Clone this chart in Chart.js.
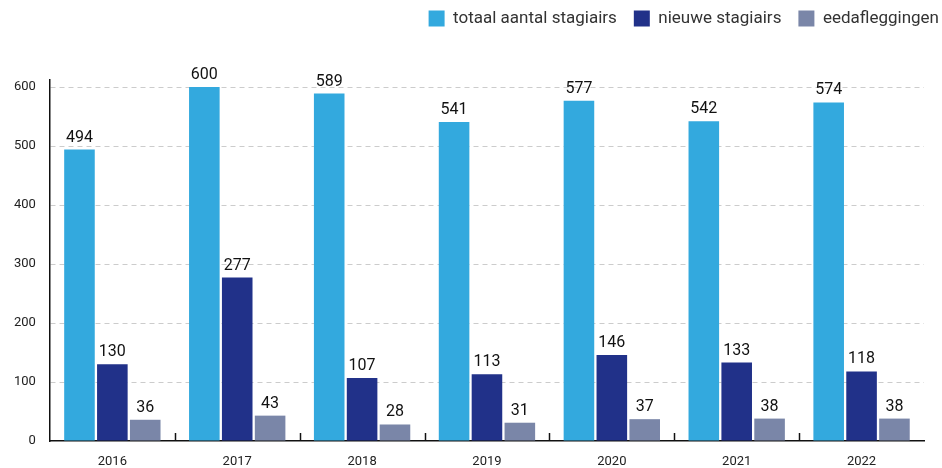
<!DOCTYPE html>
<html>
<head>
<meta charset="utf-8">
<script src="https://cdn.jsdelivr.net/npm/chart.js@4.4.1/dist/chart.umd.min.js"></script>
<style>
  html, body { margin: 0; padding: 0; background: #fff; }
  #wrap { width: 942px; height: 468px; }
</style>
</head>
<body>
<div id="wrap"><canvas id="stagiairs"></canvas></div>
<script>
const jaren = ['2016', '2017', '2018', '2019', '2020', '2021', '2022'];
const totaal = [494, 600, 589, 541, 577, 542, 574];
const nieuwe = [130, 277, 107, 113, 146, 133, 118];
const eed = [36, 43, 28, 31, 37, 38, 38];
const yTicks = [0, 100, 200, 300, 400, 500, 600];

// waarden boven de staven
const labelPlugin = {
    id: 'labels',
    afterDatasetsDraw(chart) {
        const ctx = chart.ctx;
        ctx.save();
        ctx.font = '16px Roboto';
        ctx.fillStyle = '#111';
        ctx.textAlign = 'center';
        ctx.textBaseline = 'bottom';
        chart.data.datasets.forEach((ds, i) => {
            chart.getDatasetMeta(i).data.forEach((bar, j) => {
                ctx.fillText(ds.data[j], bar.x, bar.y - 4);
            });
        });
        ctx.restore();
    }
};

// kleine streepjes tussen de jaren op de x-as
const tickPlugin = {
    id: 'tussenstreepjes',
    afterDraw(chart) {
        const ctx = chart.ctx;
        const x = chart.scales.x;
        const bottom = chart.chartArea.bottom;
        ctx.save();
        ctx.strokeStyle = '#111';
        ctx.lineWidth = 1.5;
        for (let i = 1; i < jaren.length; i++) {
            const px = Math.round((x.getPixelForValue(i - 1) + x.getPixelForValue(i)) / 2) + 0.5;
            ctx.beginPath();
            ctx.moveTo(px, bottom - 8);
            ctx.lineTo(px, bottom);
            ctx.stroke();
        }
        ctx.restore();
    }
};

// extra ruimte onder de legenda, legenda iets naar rechtsboven
const legendRuimte = {
    id: 'legendRuimte',
    beforeInit(chart) {
        const fit = chart.legend.fit;
        chart.legend.fit = function() {
            fit.bind(chart.legend)();
            this.height += 36;
        };
    },
    afterLayout(chart) {
        chart.legend.left += 32;
        chart.legend.right += 32;
        chart.legend.top -= 7;
    }
};

const ctx = document.getElementById('stagiairs').getContext('2d');
const stagiairsChart = new Chart(ctx, {
    type: 'bar',
    data: {
        labels: jaren,
        datasets: [{
            label: 'totaal aantal stagiairs',
            data: totaal,
            backgroundColor: '#33a9de'
        }, {
            label: 'nieuwe stagiairs',
            data: nieuwe,
            backgroundColor: '#213189'
        }, {
            label: 'eedafleggingen',
            data: eed,
            backgroundColor: '#7a86a8'
        }]
    },
    options: {
        responsive: true,
        maintainAspectRatio: false,
        animation: false,
        categoryPercentage: 0.79,
        barPercentage: 0.93,
        layout: { padding: { left: 0, right: 18, top: 0, bottom: 0 } },
        plugins: {
            tooltip: { enabled: false },
            legend: {
                align: 'end',
                labels: {
                    boxWidth: 16,
                    boxHeight: 16,
                    padding: 17,
                    color: '#333',
                    font: { family: 'Roboto', size: 17 }
                }
            }
        },
        scales: {
            x: {
                grid: { display: false, drawTicks: false },
                border: { color: '#111', width: 1.5 },
                ticks: { color: '#222', font: { family: 'Roboto', size: 13 }, padding: 13 },
                afterFit(scale) {
                    scale.height = 27;
                }
            },
            y: {
                min: 0,
                max: 612,
                afterBuildTicks(scale) {
                    scale.ticks = yTicks.map(v => ({ value: v }));
                },
                grid: {
                    color: (c) => c.tick && c.tick.value === 0 ? 'rgba(0,0,0,0)' : '#cccccc',
                    drawTicks: false
                },
                border: { color: '#111', width: 1.5, dash: [5, 4] },
                ticks: { color: '#222', font: { family: 'Roboto', size: 13 }, padding: 14 }
            }
        }
    },
    plugins: [labelPlugin, tickPlugin, legendRuimte]
});
</script>
</body>
</html>
